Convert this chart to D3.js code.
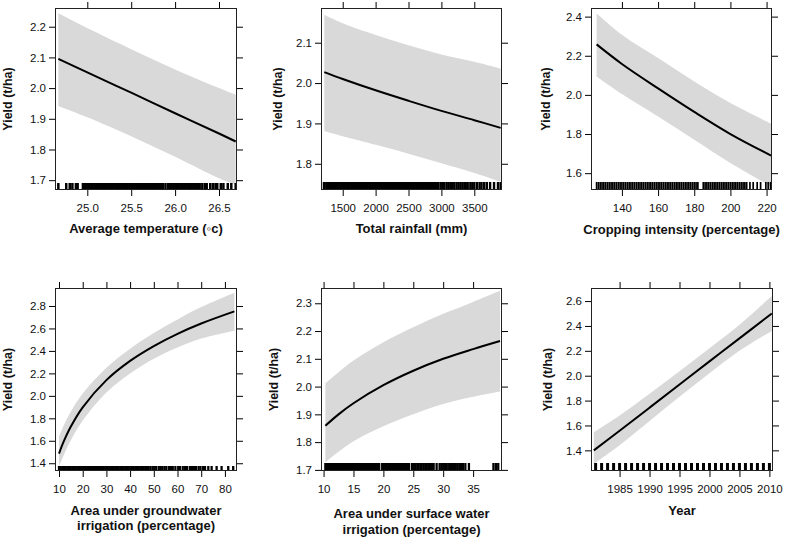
<!DOCTYPE html>
<html><head><meta charset="utf-8">
<script src="https://cdn.jsdelivr.net/npm/d3@7"></script>
<style>
body{margin:0;background:#fff}
text{font-family:"Liberation Sans",Arial,Helvetica,sans-serif;fill:#111}
</style>
</head><body>
<svg id="c" width="785" height="538"></svg>
<script>
// ---------- Panel 1: Average temperature ----------
const tempX     = [24.67, 25.0, 25.5, 26.0, 26.5, 26.69];
const tempFit   = [2.095, 2.051, 1.985, 1.918, 1.852, 1.826];
const tempUpper = [2.244, 2.196, 2.127, 2.061, 2.000, 1.978];
const tempLower = [1.942, 1.905, 1.843, 1.776, 1.706, 1.685];
const tempRug = [24.67,24.76,24.80,24.83,24.87,24.89,24.95,24.96,24.98,
  25.00,25.02,25.04,25.06,25.08,25.10,25.12,25.14,25.16,25.18,25.20,25.22,25.24,25.26,25.28,25.30,
  25.32,25.34,25.36,25.38,25.40,25.42,25.44,25.46,25.48,25.50,25.52,25.54,25.56,25.58,25.60,25.62,
  25.64,25.66,25.68,25.70,25.72,25.74,25.76,25.78,25.80,25.82,25.84,25.86,25.89,25.92,25.94,25.96,
  25.98,26.00,26.02,26.04,26.06,26.08,26.10,26.12,26.14,26.16,26.18,26.20,26.22,26.24,26.26,
  26.28,26.31,26.34,26.36,26.40,26.43,26.46,26.48,26.52,26.55,26.60,26.64,26.69];
const tempXTicks = [25.0, 25.5, 26.0, 26.5];
const tempYTicks = [1.7, 1.8, 1.9, 2.0, 2.1, 2.2];
const tempXLim = [24.632, 26.705];
const tempYLim = [1.668, 2.261];

// ---------- Panel 2: Total rainfall ----------
const rainX     = [1220, 1500, 2000, 2500, 3000, 3500, 3900];
const rainFit   = [2.027, 2.010, 1.982, 1.956, 1.931, 1.908, 1.889];
const rainUpper = [2.169, 2.148, 2.119, 2.094, 2.071, 2.053, 2.036];
const rainLower = [1.881, 1.868, 1.847, 1.825, 1.801, 1.777, 1.755];
const rainRug = [1215,1250,1275,1295,1310,
  1330,1355,1380,1405,1430,1455,1480,1505,1530,1555,1580,1605,1630,1655,1680,1705,1730,1755,1780,
  1805,1830,1855,1880,1905,1930,1955,1980,2005,2030,2055,2080,2105,2130,2155,2180,2205,2230,2255,
  2280,2305,2330,2355,2380,2405,2430,2455,2480,2505,2530,2555,2580,2605,2630,2655,2680,2705,2730,
  2755,2780,2805,2830,2855,2880,2905,2930,2955,
  2990,3020,3045,3080,3110,3140,3160,3195,3230,3260,3290,3320,3350,3370,3400,3440,3470,3500,3540,
  3580,3610,3650,3690,3740,3800,3860,3900];
const rainXTicks = [1500, 2000, 2500, 3000, 3500];
const rainYTicks = [1.8, 1.9, 2.0, 2.1];
const rainXLim = [1170, 3921];
const rainYLim = [1.735, 2.186];

// ---------- Panel 3: Cropping intensity ----------
const cropX     = [126, 140, 160, 180, 200, 222.5];
const cropFit   = [2.258, 2.158, 2.033, 1.913, 1.800, 1.690];
const cropUpper = [2.417, 2.307, 2.188, 2.068, 1.958, 1.853];
const cropLower = [2.094, 2.004, 1.890, 1.771, 1.652, 1.533];
const cropRug = [126,127,128,129,130,131,132,133,134,135,136,137,138,139,140,141,142,143,144,145,
  146,147,148,149,150,151,152,153,154,155,156,157,158,159,160,161,162,163,164,165,166,167,168,169,
  170,171,172,173,174,175,176,177,178,179,180,181,182,185,186,187,188,189,190,191,192,193,194,195,
  196,197,198,199,200,201,202,203,204,205,206,207,208,209,210.8,212.6,214.8,216.7,219.6,220.9,222.2];
const cropXTicks = [140, 160, 180, 200, 220];
const cropYTicks = [1.6, 1.8, 2.0, 2.2, 2.4];
const cropXLim = [122.9, 223.0];
const cropYLim = [1.514, 2.444];

// ---------- Panel 4: Groundwater irrigation ----------
const gwX     = [10, 12, 15, 20, 30, 40, 50, 60, 70, 84];
const gwFit   = [1.486, 1.594, 1.727, 1.898, 2.140, 2.311, 2.443, 2.552, 2.644, 2.752];
const gwUpper = [1.634, 1.735, 1.858, 2.020, 2.250, 2.420, 2.560, 2.680, 2.790, 2.918];
const gwLower = [1.370, 1.473, 1.605, 1.780, 2.030, 2.200, 2.330, 2.430, 2.510, 2.580];
const gwRug = [10.0,10.7,11.4,12.1,12.8,13.5,14.2,14.9,15.6,16.3,17.0,17.7,18.4,19.1,19.8,20.5,21.2,
  21.9,22.6,23.3,24.0,24.7,25.4,26.1,26.8,27.5,28.2,28.9,29.6,30.3,31.0,31.7,32.4,33.1,33.8,34.5,
  35.2,35.9,36.6,37.3,38.0,38.7,39.4,40.1,40.8,41.5,42.2,42.9,43.6,44.3,45.0,45.7,46.4,47.1,47.8,
  48.6,49.5,50.2,51.0,52.1,52.9,53.6,54.5,55.3,56.4,57.2,58.0,59.1,60.3,61.0,62.2,63.1,64.0,65.2,
  66.1,67.0,67.8,68.9,69.7,70.8,71.6,73.0,74.4,76.5,78.6,81.4,83.5];
const gwXTicks = [10, 20, 30, 40, 50, 60, 70, 80];
const gwYTicks = [1.4, 1.6, 1.8, 2.0, 2.2, 2.4, 2.6, 2.8];
const gwXLim = [8.31, 85.1];
const gwYLim = [1.331, 2.96];

// ---------- Panel 5: Surface water irrigation ----------
const swX     = [10.3, 12.5, 15, 20, 25, 30, 35, 39.5];
const swFit   = [1.859, 1.900, 1.940, 2.005, 2.057, 2.100, 2.135, 2.164];
const swUpper = [2.012, 2.052, 2.094, 2.160, 2.214, 2.262, 2.305, 2.345];
const swLower = [1.727, 1.765, 1.803, 1.857, 1.900, 1.937, 1.963, 1.982];
const swRug = [10.3,10.55,10.8,11.05,11.3,11.55,11.8,12.05,12.3,12.55,12.8,13.05,13.3,13.55,13.8,
  14.05,14.3,14.55,14.8,15.05,15.3,15.55,15.8,16.05,16.3,16.55,16.8,17.05,17.3,17.55,17.8,18.05,
  18.3,18.55,18.8,19.05,19.3,19.8,20.05,20.3,20.55,20.8,21.05,21.3,21.55,21.8,22.05,22.3,22.55,
  22.8,23.05,23.3,23.55,23.8,24.05,24.3,24.8,
  25.1,25.4,25.7,25.9,26.2,26.4,26.7,27.0,27.2,27.5,27.8,28.1,28.4,28.9,29.4,29.7,30.0,30.3,30.6,
  31.0,31.3,31.5,31.8,32.1,32.4,32.7,33.0,33.3,33.7,34.3,38.4,38.8,39.2];
const swXTicks = [10, 15, 20, 25, 30, 35];
const swYTicks = [1.7, 1.8, 1.9, 2.0, 2.1, 2.2, 2.3];
const swXLim = [9.57, 39.83];
const swYLim = [1.696, 2.355];

// ---------- Panel 6: Year ----------
const yearX     = [1980.7, 1985, 1990, 1995, 2000, 2005, 2010.4];
const yearFit   = [1.400, 1.557, 1.743, 1.929, 2.115, 2.300, 2.500];
const yearUpper = [1.545, 1.680, 1.855, 2.035, 2.220, 2.410, 2.640];
const yearLower = [1.290, 1.440, 1.635, 1.830, 2.020, 2.200, 2.360];
const yearRug = [1981,1982,1983,1984,1985,1986,1987,1988,1989,1990,1991,1992,1993,1994,1995,
  1996,1997,1998,1999,2000,2001,2002,2003,2004,2005,2006,2007,2008,2009,2010];
const yearXTicks = [1985, 1990, 1995, 2000, 2005, 2010];
const yearYTicks = [1.4, 1.6, 1.8, 2.0, 2.2, 2.4, 2.6];
const yearXLim = [1980.23, 2010.6];
const yearYLim = [1.234, 2.705];

const yTitle = "Yield (t/ha)";

// ---------- layout ----------
const panels = [
  {box:{l:55,t:8,w:182,h:182}, xlim:tempXLim, ylim:tempYLim, xs:tempX, fit:tempFit, hi:tempUpper, lo:tempLower,
   rug:tempRug, xt:tempXTicks, yt:tempYTicks, xf:d3.format(".1f"), yf:d3.format(".1f"),
   title:["Average temperature (\u25E6c)"], tY:[233], yX:12, rugH:7, rugW:2.5},
  {box:{l:321,t:8,w:181,h:182}, xlim:rainXLim, ylim:rainYLim, xs:rainX, fit:rainFit, hi:rainUpper, lo:rainLower,
   rug:rainRug, xt:rainXTicks, yt:rainYTicks, xf:d3.format("d"), yf:d3.format(".1f"),
   title:["Total rainfall (mm)"], tY:[233], yX:282, rugH:8, rugW:2.4},
  {box:{l:591,t:8,w:181,h:182}, xlim:cropXLim, ylim:cropYLim, xs:cropX, fit:cropFit, hi:cropUpper, lo:cropLower,
   rug:cropRug, xt:cropXTicks, yt:cropYTicks, xf:d3.format("d"), yf:d3.format(".1f"),
   title:["Cropping intensity (percentage)"], tY:[233.5], yX:550, rugH:8, rugW:1.7},
  {box:{l:55,t:288,w:182,h:183}, xlim:gwXLim, ylim:gwYLim, xs:gwX, fit:gwFit, hi:gwUpper, lo:gwLower,
   rug:gwRug, xt:gwXTicks, yt:gwYTicks, xf:d3.format("d"), yf:d3.format(".1f"),
   title:["Area under groundwater","irrigation (percentage)"], tY:[514.5,530], yX:12, rugH:5, rugW:2.3},
  {box:{l:321,t:288,w:181,h:183}, xlim:swXLim, ylim:swYLim, xs:swX, fit:swFit, hi:swUpper, lo:swLower,
   rug:swRug, xt:swXTicks, yt:swYTicks, xf:d3.format("d"), yf:d3.format(".1f"),
   title:["Area under surface water","irrigation (percentage)"], tY:[518,534], yX:278, rugH:8, rugW:2.3},
  {box:{l:591,t:288,w:182,h:183}, xlim:yearXLim, ylim:yearYLim, xs:yearX, fit:yearFit, hi:yearUpper, lo:yearLower,
   rug:yearRug, xt:yearXTicks, yt:yearYTicks, xf:d3.format("d"), yf:d3.format(".1f"),
   title:["Year"], tY:[515], yX:552, rugH:8, rugW:3}
];

const svg = d3.select("#c");
const TICK = 6;

panels.forEach((p, k) => {
  const b = p.box;
  const g = svg.append("g").attr("transform", `translate(${b.l},${b.t})`);
  const x = d3.scaleLinear().domain(p.xlim).range([0, b.w]);
  const y = d3.scaleLinear().domain(p.ylim).range([b.h, 0]);

  const cid = "clip" + k;
  g.append("clipPath").attr("id", cid).append("rect").attr("width", b.w).attr("height", b.h);
  const inner = g.append("g").attr("clip-path", `url(#${cid})`);

  const curve = d3.curveCatmullRom.alpha(0.5);
  const area = d3.area()
    .x((d, i) => x(p.xs[i])).y0((d, i) => y(p.lo[i])).y1((d, i) => y(p.hi[i]))
    .curve(curve);
  inner.append("path").datum(p.xs).attr("d", area).attr("fill", "#d9d9d9");

  const line = d3.line().x((d, i) => x(p.xs[i])).y((d, i) => y(p.fit[i])).curve(curve);
  inner.append("path").datum(p.xs).attr("d", line).attr("fill", "none")
    .attr("stroke", "#000").attr("stroke-width", 2);

  inner.selectAll("line.rug").data(p.rug).join("line").attr("class", "rug")
    .attr("x1", d => x(d)).attr("x2", d => x(d))
    .attr("y1", b.h).attr("y2", b.h - p.rugH)
    .attr("stroke", "#000").attr("stroke-width", p.rugW);

  const styleAxis = sel => {
    sel.select(".domain").remove();
    sel.selectAll(".tick line").attr("stroke", "#000");
    sel.selectAll("text").attr("font-size", "11.5px").attr("fill", "#111")
      .attr("font-family", '"Liberation Sans", Arial, sans-serif');
  };
  g.append("g").call(d3.axisLeft(y).tickValues(p.yt).tickSize(TICK).tickPadding(3).tickFormat(p.yf)).call(styleAxis);
  g.append("g").attr("transform", `translate(${b.w},0)`)
    .call(d3.axisRight(y).tickValues(p.yt).tickSize(TICK).tickFormat("")).call(styleAxis);
  g.append("g").attr("transform", `translate(0,${b.h})`)
    .call(d3.axisBottom(x).tickValues(p.xt).tickSize(TICK).tickPadding(8).tickFormat(p.xf)).call(styleAxis);
  g.append("g").call(d3.axisTop(x).tickValues(p.xt).tickSize(TICK).tickFormat("")).call(styleAxis);

  g.append("rect").attr("x", 0.5).attr("y", 0.5).attr("width", b.w - 1).attr("height", b.h - 1)
    .attr("fill", "none").attr("stroke", "#222").attr("stroke-width", 1);

  p.title.forEach((t, i) => {
    svg.append("text").attr("x", b.l + b.w / 2).attr("y", p.tY[i])
      .attr("text-anchor", "middle").attr("font-weight", "bold").attr("font-size", "13px").text(t);
  });
  svg.append("text")
    .attr("transform", `translate(${p.yX},${b.t + b.h / 2}) rotate(-90)`)
    .attr("text-anchor", "middle").attr("font-weight", "bold").attr("font-size", "12.5px").text(yTitle);
});
</script>
</body></html>
